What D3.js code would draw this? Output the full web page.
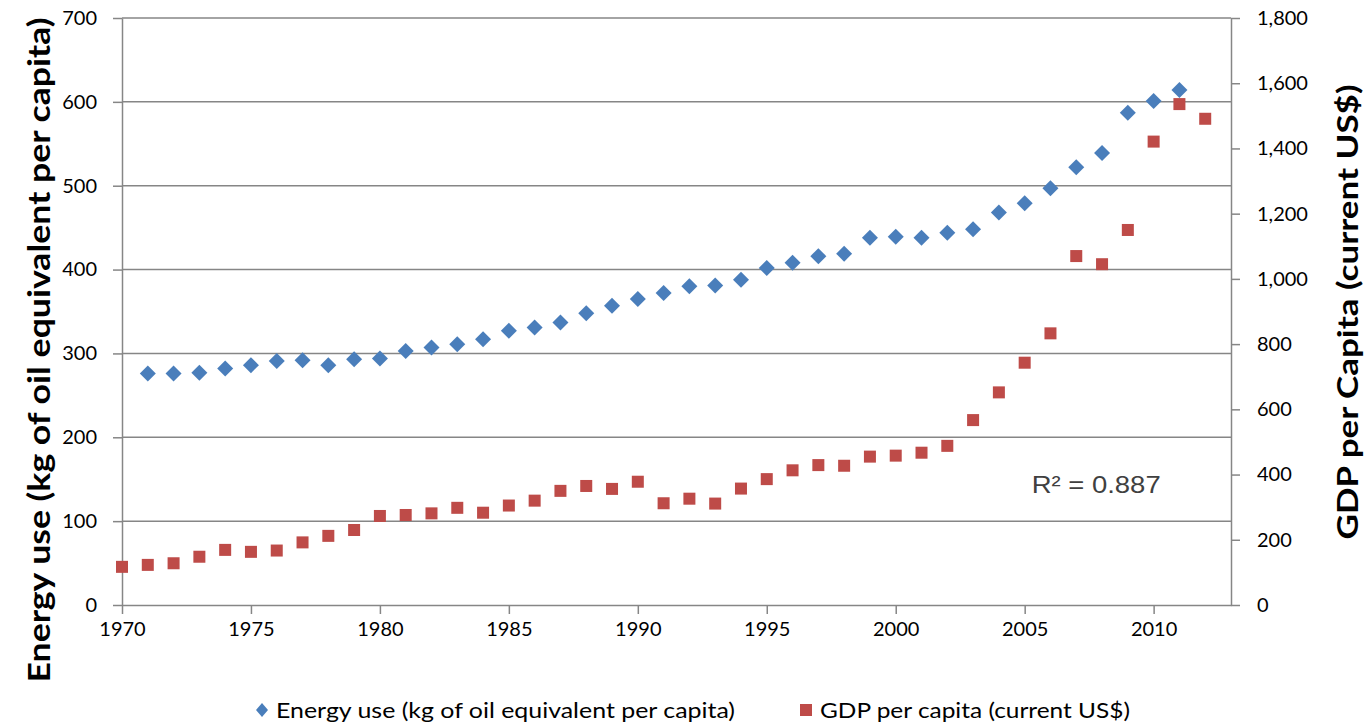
<!DOCTYPE html>
<html>
<head>
<meta charset="utf-8">
<script src="https://cdn.jsdelivr.net/npm/d3@7"></script>
<style>
  body { margin: 0; background: #fff; }
  text { font-family: Lato, "Open Sans", sans-serif; }
</style>
</head>
<body>
<div id="chart"></div>
<script>
var margin = {top: 18, right: 140, bottom: 118, left: 122};
var width = 1371 - margin.left - margin.right;
var height = 723 - margin.top - margin.bottom;

// data
var energyYears = [1971, 1972, 1973, 1974, 1975, 1976, 1977, 1978, 1979, 1980,
                   1981, 1982, 1983, 1984, 1985, 1986, 1987, 1988, 1989, 1990,
                   1991, 1992, 1993, 1994, 1995, 1996, 1997, 1998, 1999, 2000,
                   2001, 2002, 2003, 2004, 2005, 2006, 2007, 2008, 2009, 2010, 2011];
var energyUse = [276, 276, 277, 282, 286, 291, 292, 286, 293, 294,
                 303, 307, 311, 317, 327, 331, 337, 348, 357, 365,
                 372, 380, 381, 388, 402, 408, 416, 419, 438, 439,
                 438, 444, 448, 468, 479, 497, 522, 539, 587, 601, 614];

var gdpYears = [1970, 1971, 1972, 1973, 1974, 1975, 1976, 1977, 1978, 1979,
                1980, 1981, 1982, 1983, 1984, 1985, 1986, 1987, 1988, 1989,
                1990, 1991, 1992, 1993, 1994, 1995, 1996, 1997, 1998, 1999,
                2000, 2001, 2002, 2003, 2004, 2005, 2006, 2007, 2008, 2009,
                2010, 2011, 2012];
var gdpPerCapita = [117, 123, 128, 148, 169, 163, 167, 192, 212, 230,
                    273, 276, 281, 298, 283, 305, 320, 350, 365, 356,
                    378, 312, 326, 311, 357, 386, 413, 429, 427, 455,
                    458, 467, 488, 567, 652, 743, 833, 1070, 1045, 1150,
                    1421, 1536, 1491];

var xTicks = [1970, 1975, 1980, 1985, 1990, 1995, 2000, 2005, 2010];
var leftTicks = [0, 100, 200, 300, 400, 500, 600, 700];
var rightTicks = [0, 200, 400, 600, 800, 1000, 1200, 1400, 1600, 1800];
var rSquared = "R² = 0.887";

var axisColor = "#868686";
var blue = "#4a7ebb";
var red = "#be4b48";

var svg = d3.select("#chart")
  .append("svg")
  .attr("width", 1371)
  .attr("height", 723)
  .append("g")
  .attr("transform", "translate(" + margin.left + "," + margin.top + ")");

var x = d3.scaleLinear().domain([1970, 2013]).range([0, width]);
var yLeft = d3.scaleLinear().domain([0, 700]).range([height, 0]);
var yRight = d3.scaleLinear().domain([0, 1800]).range([height, 0]);

// gridlines
svg.append("g")
  .selectAll("line")
  .data(leftTicks.slice(1))
  .enter()
  .append("line")
  .attr("x1", 0)
  .attr("x2", width)
  .attr("y1", function(d) { return yLeft(d); })
  .attr("y2", function(d) { return yLeft(d); })
  .attr("stroke", axisColor)
  .attr("stroke-width", 1.5);

// axes
var xAxis = svg.append("g")
  .attr("transform", "translate(0," + height + ")")
  .call(d3.axisBottom(x).tickValues(xTicks).tickFormat(d3.format("d")).tickSize(9).tickSizeOuter(0));

var leftAxis = svg.append("g")
  .call(d3.axisLeft(yLeft).tickValues(leftTicks).tickSize(9).tickSizeOuter(0));

var rightAxis = svg.append("g")
  .attr("transform", "translate(" + width + ",0)")
  .call(d3.axisRight(yRight).tickValues(rightTicks).tickFormat(d3.format(",")).tickSize(9).tickSizeOuter(0));

[xAxis, leftAxis, rightAxis].forEach(function(a) {
  a.selectAll("path, line").attr("stroke", axisColor).attr("stroke-width", 1.5);
  a.selectAll("text").attr("fill", "#000").style("font-size", "20px");
});
xAxis.selectAll("text").attr("dy", "0.95em");
leftAxis.selectAll("text").attr("x", -25);
rightAxis.selectAll("text").attr("x", 26);

// GDP squares
svg.append("g")
  .selectAll("rect")
  .data(gdpYears)
  .enter()
  .append("rect")
  .attr("x", function(d) { return x(d) - 6; })
  .attr("y", function(d, i) { return yRight(gdpPerCapita[i]) - 6; })
  .attr("width", 12)
  .attr("height", 12)
  .attr("fill", red);

// energy diamonds
svg.append("g")
  .selectAll("path")
  .data(energyYears)
  .enter()
  .append("path")
  .attr("transform", function(d, i) { return "translate(" + x(d) + "," + yLeft(energyUse[i]) + ")"; })
  .attr("d", "M0,-8L8,0L0,8L-8,0Z")
  .attr("fill", blue);

// R squared label
svg.append("text")
  .attr("x", x(2005) + 7)
  .attr("y", yLeft(100) - 28)
  .attr("fill", "#404040")
  .attr("textLength", 129)
  .attr("lengthAdjust", "spacingAndGlyphs")
  .style("font-family", "'Liberation Sans', Arial, sans-serif")
  .style("font-size", "24px")
  .text(rSquared);

// axis titles
svg.append("text")
  .attr("transform", "translate(" + (-72) + "," + 332 + ") rotate(-90)")
  .attr("text-anchor", "middle")
  .attr("textLength", 665)
  .attr("lengthAdjust", "spacingAndGlyphs")
  .style("font-size", "30px")
  .style("font-weight", "bold")
  .text("Energy use (kg of oil equivalent per capita)");

svg.append("text")
  .attr("transform", "translate(" + (width + 127) + "," + 294 + ") rotate(-90)")
  .attr("text-anchor", "middle")
  .attr("textLength", 455)
  .attr("lengthAdjust", "spacingAndGlyphs")
  .style("font-size", "29px")
  .style("font-weight", "bold")
  .text("GDP per Capita (current US$)");

// legend
var legend = svg.append("g").attr("transform", "translate(0," + (height + 105) + ")");
legend.append("path")
  .attr("transform", "translate(" + 140 + ",0)")
  .attr("d", "M0,-7L6,0L0,7L-6,0Z")
  .attr("fill", blue);
legend.append("text")
  .attr("x", 154)
  .attr("y", 0)
  .attr("dy", "0.35em")
  .attr("textLength", 459)
  .attr("lengthAdjust", "spacingAndGlyphs")
  .style("font-size", "22px")
  .text("Energy use (kg of oil equivalent per capita)");
legend.append("rect")
  .attr("x", 678)
  .attr("y", -6)
  .attr("width", 12)
  .attr("height", 12)
  .attr("fill", red);
legend.append("text")
  .attr("x", 698)
  .attr("y", 0)
  .attr("dy", "0.35em")
  .attr("textLength", 310)
  .attr("lengthAdjust", "spacingAndGlyphs")
  .style("font-size", "22px")
  .text("GDP per capita (current US$)");
</script>
</body>
</html>
